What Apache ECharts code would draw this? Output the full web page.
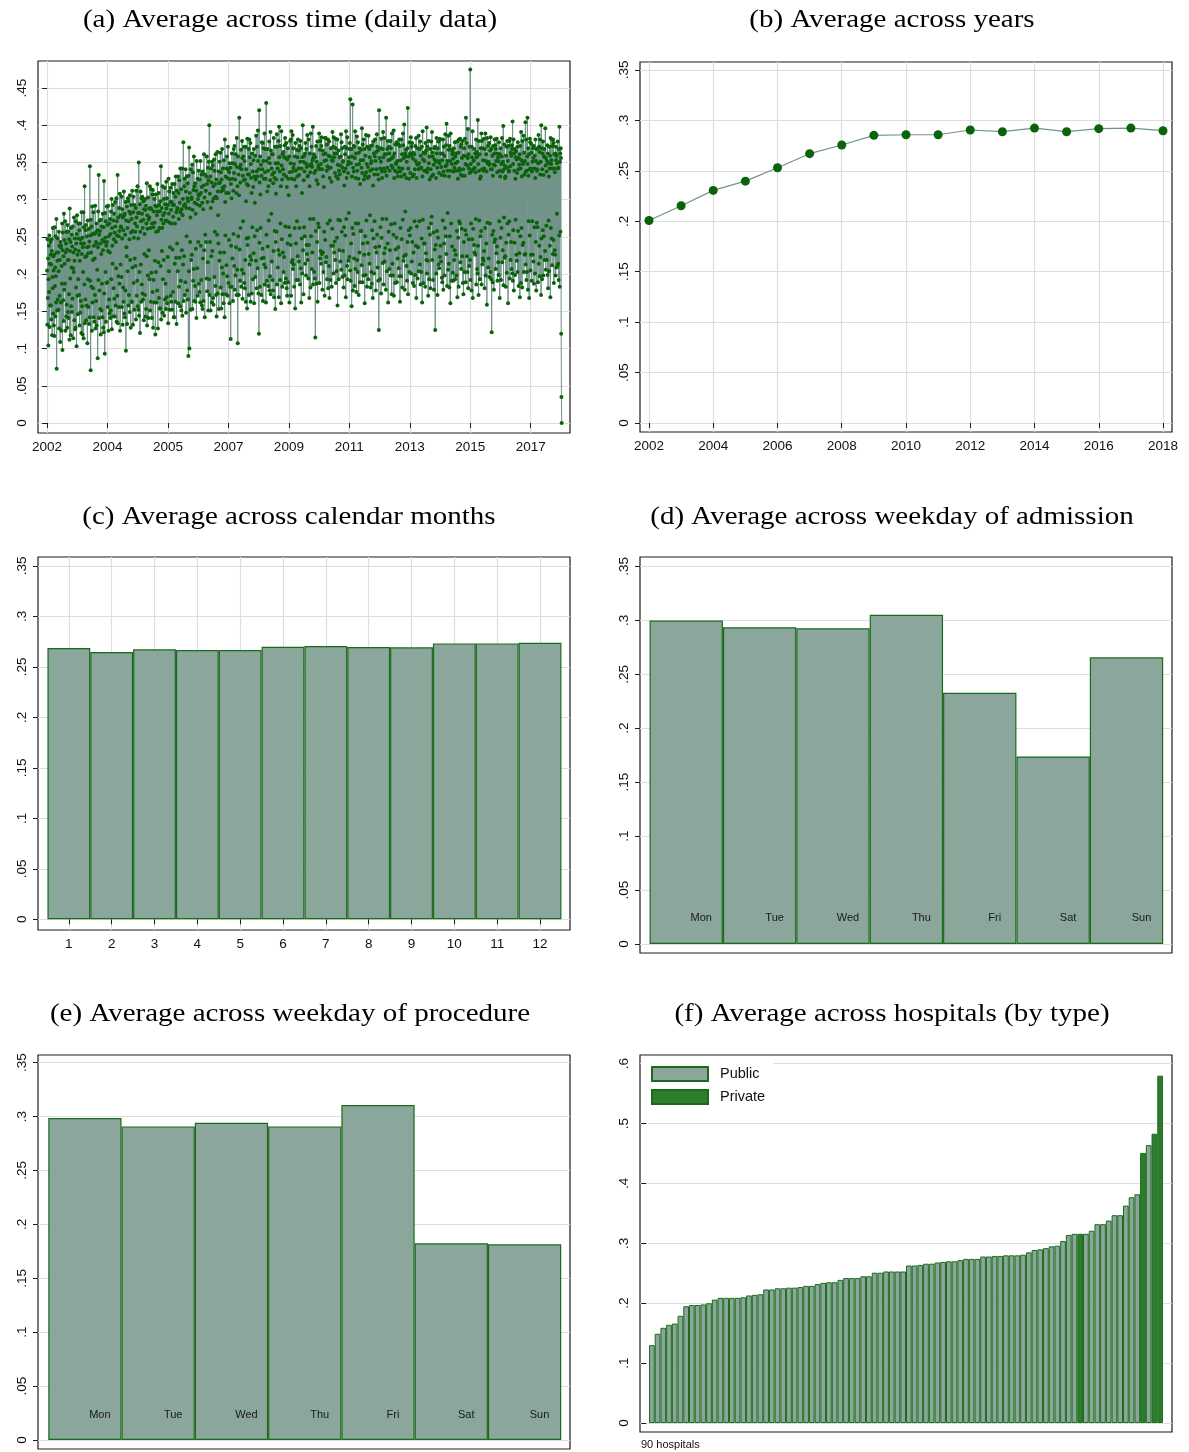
<!DOCTYPE html>
<html>
<head>
<meta charset="utf-8">
<script src="https://cdn.jsdelivr.net/npm/echarts@6/dist/echarts.min.js"></script>
<style>
  html, body { margin: 0; padding: 0; background: #fff; }
  #chart { width: 1189px; height: 1452px; }
</style>
</head>
<body>
<div id="chart"></div>
<script>
// ---------- data ----------
// (a) daily average, in time order; tick labels every 240 points
const dailyTickLabels = ['2002', '2004', '2005', '2007', '2009', '2011', '2013', '2015', '2017'];
const pointsPerTick = 240;
const dailyRate = [
  .205,.132,.247,.168,.221,.104,.193,.238,.176,.252,.129,.214,.158,.243,
  .226,.158,.213,.139,.247,.231,.118,.196,.181,.262,.147,.224,.205,.131,
  .226,.117,.263,.184,.209,.143,.251,.197,.162,.274,.073,.229,.151,.218,
  .248,.166,.229,.152,.204,.257,.127,.238,.171,.219,.109,.243,.236,.162,
  .238,.124,.211,.187,.268,.098,.232,.256,.165,.224,.137,.281,.179,.246,
  .214,.187,.271,.124,.229,.241,.143,.257,.159,.233,.128,.266,.219,.149,
  .257,.141,.219,.173,.247,.112,.288,.231,.194,.243,.118,.262,.157,.209,
  .253,.149,.237,.167,.264,.208,.114,.229,.203,.276,.138,.218,.248,.126,
  .233,.128,.271,.182,.241,.103,.254,.279,.171,.226,.146,.248,.193,.268,
  .231,.172,.259,.131,.218,.268,.148,.247,.164,.241,.121,.283,.227,.157,
  .249,.119,.236,.203,.283,.114,.263,.241,.186,.318,.134,.223,.166,.259,
  .266,.138,.224,.158,.251,.236,.107,.272,.193,.228,.156,.237,.261,.133,
  .244,.142,.345,.191,.252,.071,.273,.229,.183,.264,.124,.291,.162,.254,
  .219,.181,.283,.142,.238,.254,.136,.221,.172,.292,.127,.256,.243,.164,
  .268,.131,.241,.206,.259,.087,.236,.284,.192,.333,.141,.253,.178,.272,
  .258,.153,.241,.119,.273,.227,.151,.264,.187,.246,.142,.281,.232,.128,
  .263,.122,.325,.174,.243,.093,.282,.249,.203,.271,.136,.238,.188,.291,
  .243,.189,.266,.156,.231,.292,.124,.251,.166,.268,.147,.229,.274,.141,
  .254,.151,.284,.193,.301,.126,.262,.238,.214,.293,.143,.272,.181,.247,
  .281,.167,.256,.143,.297,.264,.158,.243,.208,.302,.136,.271,.252,.171,
  .333,.134,.276,.197,.251,.156,.289,.258,.187,.308,.124,.279,.213,.264,
  .263,.196,.304,.156,.248,.287,.132,.276,.182,.259,.163,.311,.279,.147,
  .281,.142,.253,.178,.297,.097,.272,.236,.224,.291,.133,.262,.204,.302,
  .298,.158,.271,.172,.284,.247,.149,.306,.219,.281,.128,.256,.293,.163,
  .274,.163,.312,.209,.258,.132,.283,.304,.188,.249,.152,.293,.221,.268,
  .257,.211,.289,.139,.312,.276,.171,.264,.191,.318,.157,.282,.248,.152,
  .350,.144,.282,.203,.294,.121,.257,.311,.213,.271,.163,.302,.186,.281,
  .304,.174,.262,.166,.273,.298,.138,.287,.227,.254,.172,.301,.286,.143,
  .292,.153,.268,.224,.322,.131,.279,.261,.198,.303,.141,.273,.232,.288,
  .276,.193,.318,.151,.289,.262,.163,.314,.202,.287,.141,.268,.307,.176,
  .313,.128,.263,.192,.284,.162,.301,.269,.218,.292,.119,.307,.203,.257,
  .291,.162,.279,.178,.321,.284,.127,.258,.216,.309,.168,.293,.262,.154,
  .284,.154,.298,.211,.345,.139,.273,.289,.231,.262,.148,.318,.193,.279,
  .268,.219,.301,.144,.282,.316,.166,.294,.187,.272,.153,.324,.288,.169,
  .302,.161,.271,.223,.293,.134,.328,.281,.204,.311,.152,.269,.236,.297,
  .316,.171,.286,.163,.268,.297,.152,.321,.233,.293,.176,.277,.309,.142,
  .293,.142,.321,.214,.268,.163,.304,.331,.222,.283,.133,.312,.241,.289,
  .287,.204,.331,.161,.309,.274,.183,.326,.222,.296,.157,.342,.283,.191,
  .314,.151,.287,.232,.342,.144,.279,.301,.213,.377,.164,.292,.224,.318,
  .328,.172,.294,.189,.341,.311,.148,.289,.251,.331,.178,.302,.322,.166,
  .298,.090,.332,.204,.370,.100,.288,.309,.243,.276,.152,.341,.219,.303,
  .301,.226,.347,.153,.286,.337,.191,.313,.207,.358,.164,.318,.296,.184,
  .322,.163,.281,.234,.312,.141,.352,.294,.208,.328,.171,.301,.243,.307,
  .339,.187,.306,.176,.327,.292,.162,.352,.238,.309,.192,.334,.317,.158,
  .296,.153,.338,.221,.287,.164,.319,.361,.232,.303,.142,.334,.253,.312,
  .312,.243,.331,.194,.358,.321,.177,.297,.216,.343,.151,.326,.351,.193,
  .400,.172,.308,.243,.331,.151,.289,.342,.224,.323,.162,.351,.231,.298,
  .346,.168,.318,.159,.302,.354,.196,.339,.257,.321,.184,.361,.304,.172,
  .327,.143,.302,.253,.364,.174,.311,.279,.241,.338,.153,.322,.218,.351,
  .323,.229,.363,.182,.337,.311,.154,.327,.209,.368,.173,.316,.342,.201,
  .313,.161,.353,.229,.318,.142,.381,.297,.252,.331,.173,.309,.212,.342,
  .358,.197,.329,.171,.371,.341,.188,.309,.246,.337,.161,.349,.327,.183,
  .343,.113,.321,.238,.302,.183,.362,.328,.221,.349,.164,.312,.254,.368,
  .336,.211,.372,.179,.348,.327,.198,.361,.236,.309,.172,.383,.344,.206,
  .318,.107,.358,.251,.334,.172,.306,.410,.233,.343,.191,.323,.262,.347,
  .367,.183,.341,.206,.379,.356,.167,.332,.271,.358,.201,.326,.371,.188,
  .352,.181,.327,.219,.371,.163,.298,.341,.248,.321,.154,.382,.239,.334,
  .319,.249,.368,.172,.334,.381,.213,.357,.224,.376,.163,.348,.329,.219,
  .309,.174,.362,.263,.338,.193,.317,.353,.228,.368,.161,.331,.251,.296,
  .359,.196,.327,.218,.386,.338,.181,.371,.259,.331,.208,.393,.352,.174,
  .341,.120,.420,.242,.323,.183,.358,.307,.262,.347,.172,.332,.221,.377,
  .341,.234,.376,.164,.352,.369,.222,.328,.213,.389,.186,.337,.368,.209,
  .328,.162,.430,.253,.352,.191,.311,.368,.237,.339,.184,.318,.272,.356,
  .378,.178,.349,.197,.326,.391,.173,.366,.281,.342,.217,.361,.334,.192,
  .361,.178,.322,.231,.383,.169,.337,.329,.258,.371,.153,.349,.243,.308,
  .327,.257,.388,.186,.371,.342,.209,.349,.232,.379,.169,.398,.357,.226,
  .338,.192,.372,.268,.318,.161,.392,.346,.247,.327,.183,.361,.229,.341,
  .364,.203,.334,.223,.357,.373,.188,.383,.264,.356,.194,.331,.376,.181,
  .317,.171,.354,.241,.369,.189,.328,.306,.263,.358,.162,.337,.252,.379,
  .349,.239,.381,.171,.392,.328,.216,.338,.219,.387,.207,.369,.343,.213,
  .348,.183,.327,.262,.358,.154,.376,.339,.241,.318,.192,.367,.271,.331,
  .357,.224,.381,.192,.342,.366,.217,.333,.262,.372,.186,.351,.379,.208,
  .369,.162,.342,.248,.309,.201,.357,.400,.232,.351,.173,.326,.263,.359,
  .338,.251,.362,.214,.376,.349,.198,.368,.239,.344,.227,.387,.331,.219,
  .332,.194,.381,.239,.346,.168,.318,.362,.274,.337,.182,.389,.251,.348,
  .371,.207,.344,.229,.353,.398,.186,.356,.274,.361,.203,.336,.358,.194,
  .357,.115,.339,.258,.372,.187,.326,.351,.243,.378,.163,.321,.268,.343,
  .346,.263,.389,.188,.367,.341,.221,.379,.231,.348,.214,.372,.384,.227,
  .341,.179,.366,.229,.331,.203,.361,.317,.257,.352,.171,.383,.246,.362,
  .383,.216,.353,.223,.339,.374,.193,.345,.268,.381,.181,.359,.342,.211,
  .378,.168,.329,.272,.358,.192,.343,.369,.238,.324,.183,.353,.261,.391,
  .352,.238,.371,.201,.384,.357,.229,.362,.244,.336,.219,.382,.369,.188,
  .331,.204,.362,.249,.381,.158,.347,.328,.273,.366,.193,.339,.232,.357,
  .334,.272,.346,.217,.358,.388,.206,.377,.257,.369,.196,.343,.351,.231,
  .352,.182,.338,.263,.319,.198,.371,.361,.252,.342,.169,.392,.274,.329,
  .369,.211,.384,.193,.347,.336,.218,.351,.282,.357,.223,.368,.376,.205,
  .435,.191,.349,.241,.368,.157,.331,.358,.262,.428,.178,.343,.254,.372,
  .338,.221,.371,.184,.356,.392,.207,.329,.268,.362,.176,.347,.385,.219,
  .339,.203,.377,.268,.328,.172,.363,.348,.229,.369,.189,.321,.258,.353,
  .367,.258,.343,.212,.396,.336,.189,.374,.241,.353,.198,.381,.327,.226,
  .368,.161,.332,.251,.359,.199,.387,.337,.272,.348,.183,.371,.242,.329,
  .344,.193,.386,.227,.331,.368,.214,.357,.279,.339,.182,.372,.349,.203,
  .352,.187,.373,.259,.341,.168,.319,.378,.248,.362,.201,.334,.271,.358,
  .381,.236,.352,.178,.364,.341,.229,.388,.253,.371,.209,.334,.366,.191,
  .327,.125,.420,.237,.356,.193,.342,.369,.263,.351,.174,.382,.249,.338,
  .329,.274,.368,.215,.391,.357,.186,.342,.228,.383,.217,.361,.338,.235,
  .361,.179,.410,.274,.332,.204,.368,.343,.241,.379,.162,.353,.257,.371,
  .362,.207,.339,.232,.354,.379,.198,.369,.267,.346,.173,.389,.356,.214,
  .343,.198,.358,.253,.393,.171,.329,.362,.268,.339,.188,.374,.233,.349,
  .348,.249,.377,.189,.337,.352,.221,.331,.236,.374,.208,.343,.381,.197,
  .372,.163,.338,.262,.353,.197,.381,.331,.247,.361,.182,.342,.273,.389,
  .373,.218,.356,.224,.401,.334,.179,.362,.284,.358,.226,.367,.329,.211,
  .351,.191,.369,.243,.423,.173,.342,.358,.259,.328,.203,.377,.252,.362,
  .336,.262,.384,.201,.359,.371,.217,.376,.243,.331,.188,.355,.363,.229,
  .334,.184,.361,.271,.341,.199,.372,.352,.238,.383,.168,.329,.264,.348,
  .369,.194,.347,.236,.341,.386,.204,.349,.271,.368,.213,.378,.342,.186,
  .359,.203,.343,.248,.371,.162,.331,.392,.273,.354,.188,.363,.241,.339,
  .352,.241,.362,.183,.376,.339,.228,.366,.219,.397,.201,.337,.371,.218,
  .342,.171,.379,.262,.349,.193,.358,.327,.253,.368,.181,.341,.268,.378,
  .331,.277,.391,.219,.363,.358,.192,.334,.256,.347,.179,.369,.354,.233,
  .371,.125,.351,.239,.329,.201,.383,.362,.258,.343,.172,.369,.249,.352,
  .378,.213,.336,.208,.349,.382,.223,.381,.238,.362,.217,.344,.333,.195,
  .353,.189,.362,.272,.381,.179,.338,.371,.241,.359,.198,.332,.262,.388,
  .345,.251,.373,.227,.402,.347,.184,.352,.282,.339,.206,.386,.367,.214,
  .331,.182,.372,.251,.352,.161,.389,.339,.268,.367,.191,.348,.237,.361,
  .364,.202,.355,.191,.338,.369,.219,.343,.232,.377,.193,.358,.349,.226,
  .362,.198,.339,.258,.378,.169,.351,.328,.249,.363,.183,.381,.271,.342,
  .339,.268,.382,.216,.371,.333,.207,.374,.261,.356,.224,.332,.379,.188,
  .341,.173,.359,.243,.369,.203,.332,.382,.259,.348,.189,.410,.253,.358,
  .376,.224,.346,.203,.356,.395,.181,.361,.247,.342,.211,.371,.336,.219,
  .475,.192,.348,.268,.338,.178,.371,.357,.247,.392,.168,.341,.261,.352,
  .353,.239,.368,.229,.343,.362,.226,.337,.274,.381,.186,.357,.364,.207,
  .359,.201,.407,.238,.348,.172,.379,.339,.272,.361,.193,.328,.251,.369,
  .331,.258,.389,.186,.379,.341,.213,.369,.221,.353,.218,.339,.382,.231,
  .342,.181,.368,.262,.389,.198,.352,.361,.241,.338,.159,.383,.269,.349,
  .372,.209,.351,.221,.347,.376,.196,.348,.268,.366,.203,.384,.341,.193,
  .368,.122,.341,.253,.359,.189,.332,.372,.258,.347,.179,.362,.243,.381,
  .346,.247,.373,.207,.368,.352,.228,.382,.237,.337,.191,.362,.357,.216,
  .352,.199,.377,.271,.339,.168,.361,.331,.249,.369,.192,.348,.262,.358,
  .383,.216,.338,.232,.351,.399,.185,.341,.276,.374,.222,.346,.329,.224,
  .331,.183,.359,.242,.371,.202,.343,.379,.268,.352,.161,.372,.253,.338,
  .339,.271,.379,.194,.382,.345,.219,.363,.243,.359,.207,.373,.368,.201,
  .405,.191,.348,.259,.381,.178,.362,.339,.242,.368,.199,.328,.273,.357,
  .365,.226,.354,.218,.336,.371,.203,.377,.258,.341,.184,.356,.347,.228,
  .361,.169,.372,.251,.342,.188,.391,.353,.262,.331,.182,.379,.239,.349,
  .348,.242,.386,.203,.363,.334,.226,.352,.227,.404,.213,.338,.381,.192,
  .339,.203,.358,.410,.348,.179,.369,.332,.271,.361,.168,.341,.252,.382,
  .377,.205,.342,.226,.375,.363,.191,.338,.271,.351,.226,.369,.356,.217,
  .372,.187,.342,.263,.359,.201,.329,.381,.243,.352,.178,.368,.269,.339,
  .341,.263,.369,.189,.349,.387,.214,.371,.238,.364,.197,.381,.334,.223,
  .351,.172,.400,.248,.369,.193,.341,.362,.259,.378,.198,.333,.251,.358,
  .368,.219,.357,.231,.396,.346,.206,.356,.265,.338,.219,.352,.373,.199,
  .362,.181,.349,.272,.331,.204,.371,.342,.238,.359,.169,.383,.262,.348,
  .353,.248,.381,.212,.342,.372,.227,.381,.246,.376,.188,.342,.361,.232,
  .337,.226,.362,.198,.371,.353,.209,.359,.281,.349,.211,.378,.342,.214,
  .343,.192,.368,.252,.398,.183,.351,.362,.257,.369,.356,.120,.035,0
];

// (b) yearly averages
const years = [2002, 2003, 2004, 2005, 2006, 2007, 2008, 2009, 2010, 2011, 2012, 2013, 2014, 2015, 2016, 2017, 2018];
const yearRate = [.2008, .2154, .2306, .2398, .2531, .2670, .2756, .2852, .2858, .2858, .2905, .2888, .2924, .2888, .2918, .2924, .2898];
const yearTicks = [2002, 2004, 2006, 2008, 2010, 2012, 2014, 2016, 2018];

// (c) calendar months
const months = [1, 2, 3, 4, 5, 6, 7, 8, 9, 10, 11, 12];
const monthRate = [.2687, .2647, .2674, .2667, .2667, .2700, .2707, .2697, .2694, .2733, .2733, .2740];

// (d) weekday of admission, (e) weekday of procedure
const weekdays = ['Mon', 'Tue', 'Wed', 'Thu', 'Fri', 'Sat', 'Sun'];
const admissionRate = [.2998, .2936, .2927, .3051, .2329, .1738, .2657];
const procedureRate = [.2987, .2909, .2943, .2909, .3107, .1824, .1815];

// (f) hospitals sorted by average, with the ranks of private hospitals
const hospitalRate = [
  .130, .149, .159, .164, .166, .179, .195, .197, .197, .198,
  .200, .206, .209, .209, .209, .209, .210, .213, .214, .215,
  .223, .223, .225, .225, .226, .226, .227, .229, .229, .232,
  .234, .235, .235, .239, .242, .242, .242, .245, .245, .251,
  .251, .253, .253, .253, .253, .263, .263, .264, .266, .266,
  .268, .269, .270, .270, .272, .274, .274, .274, .278, .278,
  .279, .279, .280, .280, .280, .281, .285, .289, .290, .292,
  .295, .296, .304, .314, .316, .316, .316, .321, .332, .332,
  .338, .347, .347, .363, .377, .382, .451, .464, .483, .580
];
const privateRanks = [76, 87, 89, 90];
const hospitalNote = '90 hospitals';

// axis tick values
const yTicks35 = [0, .05, .1, .15, .2, .25, .3, .35];
const yTicks45 = [0, .05, .1, .15, .2, .25, .3, .35, .4, .45];
const yTicks60 = [0, .1, .2, .3, .4, .5, .6];

// ---------- styling ----------
const SANS = 'Liberation Sans, Helvetica, Arial, sans-serif';
const SERIF = 'Liberation Serif, Times New Roman, serif';
const INK = '#111';
const FRAME = '#1c1c1c';
const GRIDLINE = '#dedede';
const BAR_FILL = '#8ba69a';
const BAR_EDGE = '#1a6b1a';
const PRIVATE_FILL = '#2e7d2e';
const DOT = '#0a620a';
const LINE = '#71938a';

const fmtTick = v => (v === 0 ? '0' : String(v).replace(/^0\./, '.'));

const gridBoxes = [
  { left: 38,  top: 61,   width: 532, height: 372 },  // a
  { left: 640, top: 62,   width: 532, height: 370 },  // b
  { left: 38,  top: 557,  width: 532, height: 373 },  // c
  { left: 640, top: 557,  width: 532, height: 396 },  // d
  { left: 38,  top: 1055, width: 532, height: 394 },  // e
  { left: 640, top: 1055, width: 532, height: 377 }   // f
];

function yAxisFor(gridIndex, min, max, ticks) {
  return {
    type: 'value', gridIndex, min, max,
    axisLine: { show: false },
    axisTick: { show: true, length: 5, customValues: ticks, lineStyle: { color: FRAME, width: 1 } },
    axisLabel: {
      customValues: ticks, rotate: 90, margin: 9, formatter: fmtTick,
      fontFamily: SANS, fontSize: 13.5, color: INK
    },
    splitLine: { show: true, lineStyle: { color: GRIDLINE, width: 1.2 } }
  };
}

function xAxisFor(gridIndex, min, max, ticks, formatter, gridlines) {
  const ax = { type: 'value', gridIndex, min, max, axisLine: { show: false } };
  if (ticks) {
    ax.axisTick = { show: true, length: 5, customValues: ticks, lineStyle: { color: FRAME, width: 1 } };
    ax.axisLabel = { customValues: ticks, margin: 7, formatter, fontFamily: SANS, fontSize: 13.5, color: INK };
  } else {
    ax.axisTick = { show: false };
    ax.axisLabel = { show: false };
  }
  ax.splitLine = { show: !!gridlines, lineStyle: { color: GRIDLINE, width: 1.2 } };
  return ax;
}

const dailyTickValues = dailyTickLabels.map((_, k) => k * pointsPerTick);

const weekdayLabel = {
  show: true, position: 'insideBottom', distance: 5, offset: [15, -15],
  formatter: '{b}', fontFamily: SANS, fontSize: 11, color: '#1a1a1a'
};
const barStyle = { color: BAR_FILL, borderColor: BAR_EDGE, borderWidth: 1.2 };

const publicHospitals = [];
const privateHospitals = [];
hospitalRate.forEach((v, i) => {
  (privateRanks.includes(i + 1) ? privateHospitals : publicHospitals).push([i + 1, v]);
});

// panel headings: text, centre x, centre y
const titles = [
  ['(a) Average across time (daily data)', 290, 20],
  ['(b) Average across years', 892, 20],
  ['(c) Average across calendar months', 289, 517],
  ['(d) Average across weekday of admission', 892, 517],
  ['(e) Average across weekday of procedure', 290, 1014],
  ['(f) Average across hospitals (by type)', 892, 1014]
];

const option = {
  animation: false,
  backgroundColor: '#fff',
  grid: gridBoxes.map(b => Object.assign({ show: true, borderColor: FRAME, borderWidth: 1.2, containLabel: false }, b)),
  xAxis: [
    xAxisFor(0, -36, 2076, dailyTickValues, v => dailyTickLabels[Math.round(v / pointsPerTick)], true),
    xAxisFor(1, 2001.72, 2018.28, yearTicks, v => String(v), true),
    xAxisFor(2, 0.28, 12.70, months, v => String(v), true),
    xAxisFor(3, 0.37, 7.62, null, null, false),
    xAxisFor(4, 0.36, 7.62, null, null, false),
    xAxisFor(5, -1.08, 92.08, null, null, false)
  ],
  yAxis: [
    yAxisFor(0, -0.0134, 0.4863, yTicks45),
    yAxisFor(1, -0.0089, 0.3579, yTicks35),
    yAxisFor(2, -0.0106, 0.3589, yTicks35),
    yAxisFor(3, -0.0084, 0.3587, yTicks35),
    yAxisFor(4, -0.0083, 0.3571, yTicks35),
    yAxisFor(5, -0.015, 0.6145, yTicks60)
  ],
  legend: {
    data: ['Public', 'Private'],
    orient: 'vertical', left: 641, top: 1059,
    padding: [7, 8, 8, 10], itemGap: 7, itemWidth: 56, itemHeight: 14,
    icon: 'rect', selectedMode: false, backgroundColor: '#fff',
    textStyle: { fontFamily: SANS, fontSize: 14.5, color: INK, lineHeight: 14, padding: [0, 0, 0, 7] }
  },
  graphic: titles.map(([text, x, y]) => ({
    type: 'text', x, y, scaleX: 1.16, silent: true,
    style: { text, font: '25px ' + SERIF, fill: '#000', textAlign: 'center', textVerticalAlign: 'middle' }
  })).concat([{
    type: 'text', x: 641, y: 1445, silent: true,
    style: { text: hospitalNote, font: '11px ' + SANS, fill: INK, textVerticalAlign: 'middle' }
  }]),
  series: [
    {
      type: 'line', xAxisIndex: 0, yAxisIndex: 0,
      data: dailyRate.map((v, i) => [i, v]),
      showAllSymbol: true, symbol: 'circle', symbolSize: 4,
      itemStyle: { color: DOT }, lineStyle: { color: LINE, width: 1 }
    },
    {
      type: 'line', xAxisIndex: 1, yAxisIndex: 1,
      data: years.map((y, i) => [y, yearRate[i]]),
      symbol: 'circle', symbolSize: 9,
      itemStyle: { color: DOT }, lineStyle: { color: LINE, width: 1.2 }
    },
    {
      type: 'bar', xAxisIndex: 2, yAxisIndex: 2, barWidth: '100%',
      data: months.map((m, i) => [m, monthRate[i]]),
      itemStyle: barStyle
    },
    {
      type: 'bar', xAxisIndex: 3, yAxisIndex: 3, barWidth: '100%',
      data: weekdays.map((d, i) => ({ name: d, value: [i + 1, admissionRate[i]] })),
      itemStyle: barStyle, label: weekdayLabel
    },
    {
      type: 'bar', xAxisIndex: 4, yAxisIndex: 4, barWidth: '100%',
      data: weekdays.map((d, i) => ({ name: d, value: [i + 1, procedureRate[i]] })),
      itemStyle: barStyle, label: weekdayLabel
    },
    {
      name: 'Public', type: 'bar', xAxisIndex: 5, yAxisIndex: 5, barWidth: '100%', barGap: '-100%',
      data: publicHospitals,
      itemStyle: { color: BAR_FILL, borderColor: BAR_EDGE, borderWidth: 1 }
    },
    {
      name: 'Private', type: 'bar', xAxisIndex: 5, yAxisIndex: 5, barWidth: '100%', barGap: '-100%',
      data: privateHospitals,
      itemStyle: { color: PRIVATE_FILL, borderColor: BAR_EDGE, borderWidth: 1 }
    }
  ]
};

const chart = echarts.init(document.getElementById('chart'), null, { renderer: 'canvas' });
chart.setOption(option);
</script>
</body>
</html>
